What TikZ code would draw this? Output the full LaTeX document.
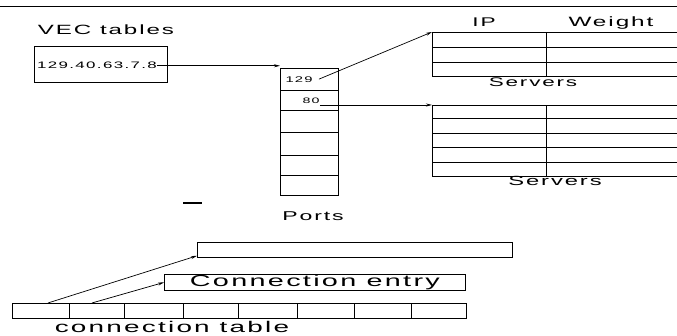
\documentclass[tikz,border=0pt]{standalone}
\usepackage{fontspec}
\usepackage{tikz}
\usetikzlibrary{arrows.meta,positioning}
\newfontfamily\plotfont[LetterSpace=8]{Liberation Sans}
\newcommand{\plotsize}[1]{\fontsize{#1}{#1}\selectfont}
\newcommand{\wide}[1]{\scalebox{1.8}[1]{#1}}

\begin{document}
\begin{tikzpicture}[
    x=1pt, y=-1pt,
    line width=0.8pt,
    box/.style={rectangle, draw, inner sep=0pt, anchor=north west},
    txt/.style={inner sep=0pt, anchor=base, font=\plotfont\plotsize{#1}},
    txt/.default=12,
    link/.style={-{Stealth[length=6pt,width=3pt]}, line width=0.7pt}
]
\useasboundingbox (0,0) rectangle (677,336);

% Top rule
\draw (0,6) -- (677,6);

% VEC table
\node[txt=13.4] (vectitle) at (106,35) {\wide{VEC tables}};
\node[box, minimum width=133pt, minimum height=36pt] (vecbox) at (34,46) {};
\node[txt=9.4] (vecaddr) at (97,69) {\wide{129.40.63.7.8}};

% Ports
\node[box, minimum width=58pt, minimum height=22pt] (port1) at (280,68) {};
\node[box, minimum width=58pt, minimum height=20pt] (port2) at (280,90) {};
\node[box, minimum width=58pt, minimum height=22pt] (port3) at (280,110) {};
\node[box, minimum width=58pt, minimum height=23pt] (port4) at (280,132) {};
\node[box, minimum width=58pt, minimum height=20pt] (port5) at (280,155) {};
\node[box, minimum width=58pt, minimum height=20pt] (port6) at (280,175) {};
\node[txt=8.2] (p129) at (299,83) {\wide{129}};
\node[txt=7.9] (p80) at (311,104) {\wide{80}};
\node[txt=12.8] (portlabel) at (313,221) {\wide{Ports}};

% Servers, first table
\node[txt=12.6] (iphead) at (484,27) {\wide{IP}};
\node[txt=13.5] (wthead) at (611,27) {\wide{Weight}};
\node[box, minimum width=114pt, minimum height=15pt] (sa1) at (432,32) {};
\node[box, minimum width=138pt, minimum height=15pt] (sb1) at (546,32) {};
\node[box, minimum width=114pt, minimum height=15pt] (sa2) at (432,47) {};
\node[box, minimum width=138pt, minimum height=15pt] (sb2) at (546,47) {};
\node[box, minimum width=114pt, minimum height=14pt] (sa3) at (432,62) {};
\node[box, minimum width=138pt, minimum height=14pt] (sb3) at (546,62) {};
\node[txt=12.5] (srvlabel1) at (533,87) {\wide{Servers}};

% Servers, second table
\node[box, minimum width=114pt, minimum height=13pt] (ta1) at (432,105) {};
\node[box, minimum width=138pt, minimum height=13pt] (tb1) at (546,105) {};
\node[box, minimum width=114pt, minimum height=15pt] (ta2) at (432,118) {};
\node[box, minimum width=138pt, minimum height=15pt] (tb2) at (546,118) {};
\node[box, minimum width=114pt, minimum height=14pt] (ta3) at (432,133) {};
\node[box, minimum width=138pt, minimum height=14pt] (tb3) at (546,133) {};
\node[box, minimum width=114pt, minimum height=15pt] (ta4) at (432,147) {};
\node[box, minimum width=138pt, minimum height=15pt] (tb4) at (546,147) {};
\node[box, minimum width=114pt, minimum height=14pt] (ta5) at (432,162) {};
\node[box, minimum width=138pt, minimum height=14pt] (tb5) at (546,162) {};
\node[txt=13.2] (srvlabel2) at (555,186) {\wide{Servers}};

% Stray mark
\draw[line width=1.4pt] (183,203) -- (202,203);

% Connection entries
\node[box, minimum width=315pt, minimum height=15pt] (longbox) at (197,242) {};
\node[box, minimum width=301pt, minimum height=16pt, font=\plotfont\plotsize{16}] (entry) at (164,274) {\wide{Connection entry}};

% Connection table
\node[box, minimum width=57pt, minimum height=15pt] (cell1) at (12,303) {};
\node[box, minimum width=55pt, minimum height=15pt] (cell2) at (69,303) {};
\node[box, minimum width=59pt, minimum height=15pt] (cell3) at (124,303) {};
\node[box, minimum width=55pt, minimum height=15pt] (cell4) at (183,303) {};
\node[box, minimum width=59pt, minimum height=15pt] (cell5) at (238,303) {};
\node[box, minimum width=57pt, minimum height=15pt] (cell6) at (297,303) {};
\node[box, minimum width=57pt, minimum height=15pt] (cell7) at (354,303) {};
\node[box, minimum width=55pt, minimum height=15pt] (cell8) at (411,303) {};
\node[txt=15.5] (tablelabel) at (172,333) {\wide{connection table}};

% Arrows
\draw[link] (vecaddr.east) -- (vecaddr.east -| port1.west);
\draw[link] ([xshift=6pt,yshift=1pt]p129.east) -- (sa1.north west);
\draw[link] (p80.east |- ta1.north) -- (ta1.north west);
\draw[link] ([xshift=7pt]cell1.north) -- ([yshift=2pt]longbox.south west);
\draw[link] ([xshift=-5pt]cell2.north) -- (entry.west);

\end{tikzpicture}
\end{document}
